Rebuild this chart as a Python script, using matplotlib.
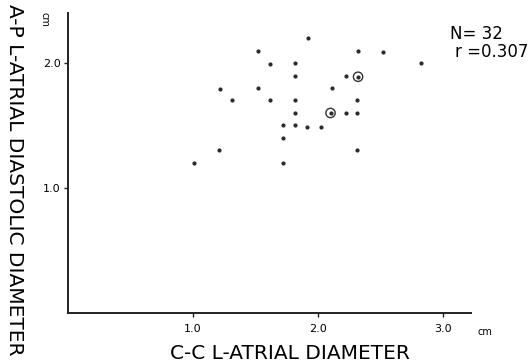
import numpy as np
import matplotlib
matplotlib.use("Agg")
import matplotlib.pyplot as plt

# C-C diameter (cm) vs A-P diastolic diameter (cm), single points
cc = [1.92, 1.52, 2.32, 2.52, 1.62, 1.82, 1.82, 2.22, 1.22, 1.52, 2.11,
      1.31, 1.62, 1.82, 2.31, 1.82, 2.22, 2.31, 1.72, 1.82, 1.91, 2.02,
      1.72, 1.21, 2.31, 1.01, 1.72, 2.82]
ap = [2.20, 2.10, 2.10, 2.09, 1.99, 2.00, 1.90, 1.90, 1.79, 1.80, 1.80,
      1.70, 1.70, 1.70, 1.70, 1.60, 1.60, 1.60, 1.50, 1.50, 1.49, 1.49,
      1.40, 1.30, 1.30, 1.20, 1.20, 2.00]
# points where two cases overlap (drawn circled)
cc_double = [2.32, 2.10]
ap_double = [1.89, 1.60]

xticks = [1.0, 2.0, 3.0]
xticklabels = ["1.0", "2.0", "3.0"]
yticks = [1.0, 2.0]
yticklabels = ["1.0", "2.0"]

fig = plt.figure(figsize=(5.30, 3.64), dpi=100)
ax = fig.add_axes([0.1277, 0.141, 0.7604, 0.823])

ax.scatter(cc, ap, s=4, color="#2a2a2a", zorder=3)
ax.scatter(cc_double, ap_double, s=4, color="#2a2a2a", zorder=3)
ax.scatter(cc_double, ap_double, s=45, facecolors="none",
           edgecolors="#333333", linewidths=1.0, zorder=3)

ax.set_xlim(0, 3.22)
ax.set_ylim(0, 2.40)
ax.spines["top"].set_visible(False)
ax.spines["right"].set_visible(False)
for sp in ["left", "bottom"]:
    ax.spines[sp].set_linewidth(1.4)
    ax.spines[sp].set_color("#222222")

ax.set_xticks(xticks)
ax.set_xticklabels(xticklabels, fontsize=8)
ax.set_yticks(yticks)
ax.set_yticklabels(yticklabels, fontsize=8)
ax.tick_params(length=3, width=1, color="#222222")
ax.tick_params(axis="x", pad=5)
ax.tick_params(axis="y", pad=2)

fig.text(0.9, 0.08, "cm", fontsize=7)
fig.text(0.074, 0.968, "cm", fontsize=7, rotation=-90, va="top")

ax.set_xlabel("C-C L-ATRIAL DIAMETER", fontsize=14.5)
ax.xaxis.set_label_coords(0.552, -0.105)
fig.text(0.027, 0.99, "A-P L-ATRIAL DIASTOLIC DIAMETER", fontsize=14.5,
         rotation=-90, va="top", ha="center")

fig.text(0.849, 0.893, "N= 32", fontsize=12)
fig.text(0.858, 0.843, "r =0.307", fontsize=12)

fig.savefig("out.png", dpi=100)
